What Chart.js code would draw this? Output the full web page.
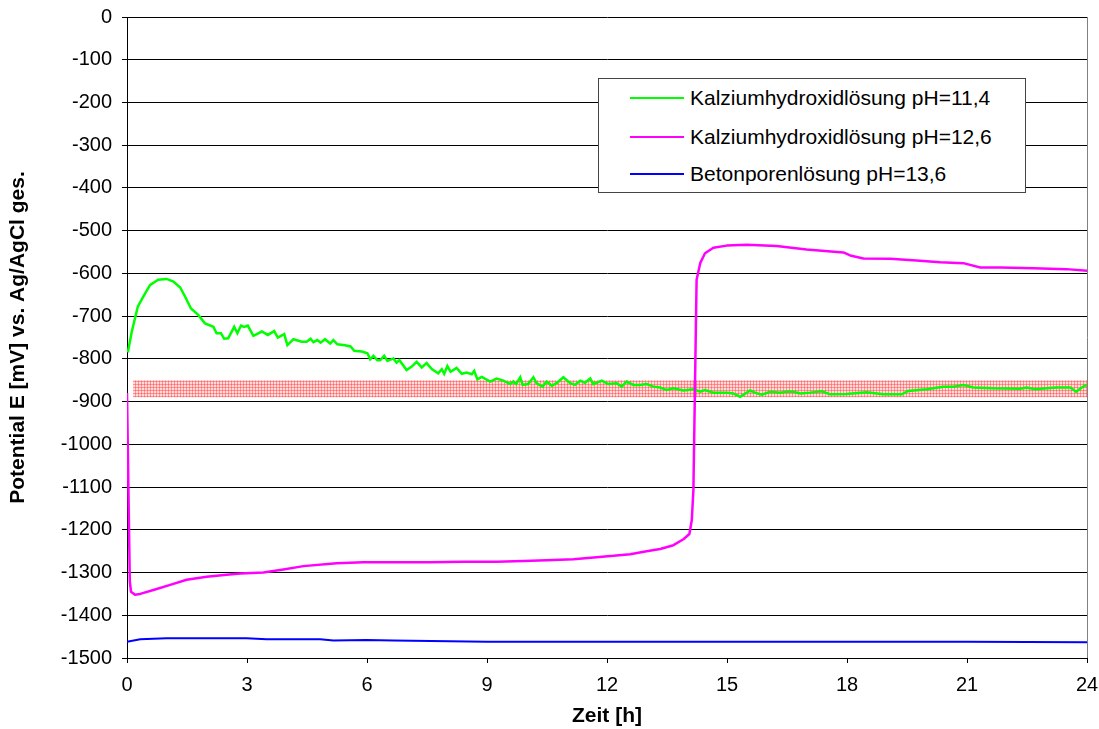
<!DOCTYPE html>
<html>
<head>
<meta charset="utf-8">
<script src="https://cdn.jsdelivr.net/npm/chart.js@4.4.0/dist/chart.umd.min.js"></script>
<style>
  html, body { margin: 0; padding: 0; background: #fff; }
  #wrap { position: relative; width: 1099px; height: 729px; }
  #legend { position: absolute; left: 598px; top: 78px; width: 426px; height: 113px;
    border: 1px solid #444; background: #fff; font-family: "Liberation Sans", Arial, sans-serif;
    font-size: 21px; color: #000; }
  .item { position: absolute; left: 31px; height: 24px; line-height: 24px; }
  .item span.sw { position: absolute; left: 0; top: 11px; width: 54px; height: 2px; }
  .item span.tx { position: absolute; left: 60px; top: 0; white-space: nowrap; }
</style>
</head>
<body>
<div id="wrap">
  <canvas id="c" width="1099" height="729"></canvas>
  <div id="legend"></div>
</div>
<script>
// ---- data ----
const xTicks = [0, 3, 6, 9, 12, 15, 18, 21, 24];
const yTicks = [0, -100, -200, -300, -400, -500, -600, -700, -800, -900, -1000, -1100, -1200, -1300, -1400, -1500];

const seriesLabels = ["Kalziumhydroxidlösung pH=11,4", "Kalziumhydroxidlösung pH=12,6", "Betonporenlösung pH=13,6"];
const seriesColors = ["#00ff00", "#ff00ff", "#0000ff"];

const greenT = [0.02,0.12,0.27,0.41,0.58,0.78,0.99,1.16,1.33,1.45,1.6,1.78,1.95,2.16,2.24,2.35,2.43,2.53,2.68,2.76,2.85,2.93,3.02,3.16,3.37,3.52,3.68,3.77,3.93,4.01,4.16,4.37,4.49,4.59,4.66,4.76,4.84,4.95,5.08,5.16,5.26,5.45,5.59,5.68,5.87,6.01,6.08,6.16,6.26,6.33,6.43,6.51,6.66,6.74,6.81,6.99,7.12,7.24,7.37,7.49,7.62,7.78,7.87,7.93,8.01,8.09,8.24,8.37,8.49,8.62,8.68,8.76,8.87,9.08,9.24,9.41,9.58,9.66,9.73,9.83,9.89,10.03,10.16,10.24,10.39,10.49,10.62,10.74,10.91,11.08,11.2,11.33,11.45,11.58,11.66,11.87,12.03,12.24,12.37,12.49,12.66,12.83,12.99,13.16,13.33,13.49,13.66,13.91,14.16,14.33,14.45,14.66,14.99,15.16,15.33,15.58,15.7,15.87,16.08,16.33,16.49,16.66,16.83,17.08,17.37,17.58,17.99,18.49,18.91,19.37,19.53,19.99,20.41,20.66,20.91,21.16,21.66,22.33,22.49,22.7,22.99,23.24,23.58,23.73,23.87,23.99];
const greenE = [-785,-736,-678,-654,-627,-615,-613,-619,-633,-654,-682,-697,-717,-725,-740,-740,-753,-752,-725,-740,-722,-725,-722,-746,-736,-744,-735,-750,-742,-768,-754,-760,-760,-753,-761,-756,-762,-754,-764,-756,-766,-768,-771,-781,-783,-787,-801,-793,-803,-803,-793,-805,-799,-809,-803,-826,-818,-807,-820,-810,-824,-834,-824,-835,-817,-830,-821,-835,-832,-836,-828,-848,-842,-853,-846,-851,-859,-853,-859,-843,-861,-859,-843,-857,-865,-853,-863,-857,-843,-857,-861,-851,-856,-846,-859,-851,-859,-857,-865,-853,-861,-861,-859,-865,-867,-873,-869,-874,-871,-877,-873,-879,-879,-881,-889,-874,-879,-884,-877,-879,-877,-877,-881,-879,-876,-883,-882,-878,-883,-883,-875,-871,-865,-865,-861,-867,-869,-870,-867,-871,-869,-867,-867,-877,-867,-861];

const pinkT = [0,0.07,0.1,0.2,0.33,0.66,1.08,1.49,1.99,2.49,2.83,3.41,3.91,4.41,5.24,5.91,6.74,7.58,8.41,9.24,9.91,10.49,11.16,11.74,12.16,12.58,12.99,13.33,13.66,13.91,14.06,14.12,14.16,14.24,14.33,14.45,14.66,14.99,15.49,16.24,16.99,17.91,18.08,18.41,19.08,19.74,20.33,20.91,21.33,21.83,22.66,23.49,24];
const pinkE = [-880,-1320,-1345,-1352,-1350,-1341,-1329,-1317,-1310,-1305,-1302,-1300,-1293,-1285,-1278,-1276,-1276,-1276,-1275,-1275,-1273,-1271,-1269,-1264,-1261,-1257,-1250,-1245,-1236,-1222,-1210,-1177,-1107,-615,-576,-553,-540,-535,-533,-536,-544,-551,-558,-565,-566,-570,-574,-576,-586,-586,-588,-590,-594];

const blueT = [0,0.33,0.99,1.83,2.99,3.49,4.83,5.16,5.99,6.66,9,12,15,18,21,24];
const blueE = [-1462,-1456,-1454,-1454,-1454,-1456,-1456,-1459,-1458,-1459,-1462,-1462,-1462,-1462,-1462,-1463];

const bandT = [0.15, 24];
const bandUpper = -850;
const bandLower = -890;

// ---- helpers ----
const pts = (t, e) => t.map((v, i) => ({ x: v, y: e[i] }));

function makePattern() {
  const p = document.createElement('canvas');
  p.width = 3; p.height = 3;
  const g = p.getContext('2d');
  g.fillStyle = 'rgba(255,190,190,0.55)';
  g.fillRect(0, 0, 3, 3);
  g.fillStyle = 'rgba(255,60,60,0.45)';
  g.fillRect(0, 0, 1, 3);
  g.fillRect(0, 0, 3, 1);
  return g.createPattern(p, 'repeat');
}

const FONT = '"Liberation Sans", Arial, sans-serif';
const zeroPad = s => { s.paddingLeft = 0; s.paddingRight = 0; s.paddingTop = 0; s.paddingBottom = 0; };

const chart = new Chart(document.getElementById('c'), {
  type: 'line',
  data: {
    datasets: [
      { label: seriesLabels[1], data: pts(pinkT, pinkE), borderColor: seriesColors[1], borderWidth: 2.5,
        pointRadius: 0, tension: 0, fill: false, order: 0, borderJoinStyle: 'round' },
      { label: seriesLabels[0], data: pts(greenT, greenE), borderColor: seriesColors[0], borderWidth: 2.5,
        pointRadius: 0, tension: 0, fill: false, order: 1 },
      { label: 'band', data: bandT.map(t => ({ x: t, y: bandUpper })), borderWidth: 0, borderColor: 'rgba(0,0,0,0)',
        backgroundColor: makePattern(), fill: { value: bandLower }, pointRadius: 0, order: 2 },
      { label: seriesLabels[2], data: pts(blueT, blueE), borderColor: seriesColors[2], borderWidth: 2,
        pointRadius: 0, tension: 0, fill: false, order: 3 }
    ]
  },
  options: {
    responsive: false,
    animation: false,
    layout: { padding: { top: 17, right: 12, left: 0, bottom: 0 } },
    plugins: { legend: { display: false }, tooltip: { enabled: false } },
    scales: {
      x: {
        type: 'linear', min: 0, max: 24,
        afterBuildTicks: s => { s.ticks = xTicks.map(v => ({ value: v })); },
        afterFit: s => { s.height = 71; zeroPad(s); },
        ticks: { color: '#000', font: { family: FONT, size: 20 }, padding: 10, maxRotation: 0,
                 callback: v => String(v) },
        grid: { color: c => (c.tick && c.tick.value === 24) ? '#808080' : 'rgba(0,0,0,0)',
                tickColor: '#000', tickLength: 5, lineWidth: 1 },
        border: { display: true, color: '#000', width: 1 },
        title: { display: true, text: 'Zeit [h]', color: '#000', font: { family: FONT, size: 21, weight: 'bold' }, padding: { top: 0, bottom: 0 } }
      },
      y: {
        type: 'linear', min: -1500, max: 0,
        afterBuildTicks: s => { s.ticks = yTicks.map(v => ({ value: v })); },
        afterFit: s => { s.width = 127; zeroPad(s); },
        ticks: { color: '#000', font: { family: FONT, size: 20 }, padding: 10,
                 callback: v => String(v) },
        grid: { color: '#000', tickColor: '#000', tickLength: 5, lineWidth: 1 },
        border: { display: true, color: '#000', width: 1 },
        title: { display: true, text: 'Potential E [mV] vs. Ag/AgCl ges.', color: '#000', font: { family: FONT, size: 21, weight: 'bold' }, padding: { top: 6, bottom: 0 } }
      }
    }
  }
});

// HTML legend built from series arrays
const legend = document.getElementById('legend');
const tops = [7, 46, 83];
[0, 1, 2].forEach((i, k) => {
  const d = document.createElement('div');
  d.className = 'item';
  d.style.top = tops[k] + 'px';
  const sw = document.createElement('span'); sw.className = 'sw'; sw.style.background = seriesColors[i];
  const tx = document.createElement('span'); tx.className = 'tx'; tx.textContent = seriesLabels[i];
  d.appendChild(sw); d.appendChild(tx);
  legend.appendChild(d);
});
</script>
</body>
</html>
